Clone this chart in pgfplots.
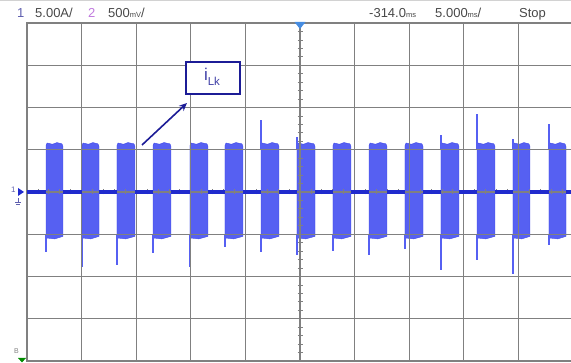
\documentclass[border=0pt]{standalone}
\usepackage{pgfplots}
\pgfplotsset{compat=1.18}
\usepackage{fontspec}
\setmainfont{Liberation Sans}
\usetikzlibrary{arrows.meta}
\definecolor{burst}{RGB}{86,96,242}
\definecolor{burstdk}{RGB}{62,72,232}
\definecolor{basec}{RGB}{32,42,205}
\definecolor{gridc}{RGB}{128,128,128}
\definecolor{annot}{RGB}{28,28,150}
\definecolor{hdr}{RGB}{72,72,72}
\definecolor{chone}{RGB}{95,95,175}
\definecolor{chtwo}{RGB}{192,122,222}
\definecolor{trig}{RGB}{70,140,225}
\newcommand{\unit}[1]{{\fontsize{7.5}{8}\selectfont #1}}
\begin{document}
\begin{tikzpicture}[x=1pt,y=1pt]
\begin{axis}[at={(27pt,2pt)}, anchor=south west, scale only axis,
  width=546pt, height=338pt, xmin=0, xmax=10, ymin=-4, ymax=4,
  xtick={0,...,10}, ytick={-4,...,4}, xticklabels={}, yticklabels={},
  tick style={draw=none}, grid=major, grid style={gridc, line width=1.3pt},
  axis line style={gridc, line width=1.3pt}, axis on top]
% bursts
\addplot[fill=burst, draw=burstdk, line width=0.4pt] coordinates {(0.348,-1.06) (0.348,1.10) (0.368,1.16) (0.468,1.13) (0.548,1.17) (0.639,1.14) (0.659,1.08) (0.659,-1.05) (0.508,-1.11) (0.368,-1.09)} -- cycle;
\addplot[fill=burst, draw=burstdk, line width=0.4pt] coordinates {(1.007,-1.06) (1.007,1.10) (1.027,1.16) (1.127,1.13) (1.207,1.17) (1.299,1.14) (1.319,1.08) (1.319,-1.05) (1.167,-1.11) (1.027,-1.09)} -- cycle;
\addplot[fill=burst, draw=burstdk, line width=0.4pt] coordinates {(1.648,-1.06) (1.648,1.10) (1.668,1.16) (1.768,1.13) (1.848,1.17) (1.958,1.14) (1.978,1.08) (1.978,-1.05) (1.808,-1.11) (1.668,-1.09)} -- cycle;
\addplot[fill=burst, draw=burstdk, line width=0.4pt] coordinates {(2.308,-1.06) (2.308,1.10) (2.328,1.16) (2.428,1.13) (2.508,1.17) (2.617,1.14) (2.637,1.08) (2.637,-1.05) (2.468,-1.11) (2.328,-1.09)} -- cycle;
\addplot[fill=burst, draw=burstdk, line width=0.4pt] coordinates {(2.985,-1.06) (2.985,1.10) (3.005,1.16) (3.105,1.13) (3.185,1.17) (3.295,1.14) (3.315,1.08) (3.315,-1.05) (3.145,-1.11) (3.005,-1.09)} -- cycle;
\addplot[fill=burst, draw=burstdk, line width=0.4pt] coordinates {(3.626,-1.06) (3.626,1.10) (3.646,1.16) (3.746,1.13) (3.826,1.17) (3.936,1.14) (3.956,1.08) (3.956,-1.05) (3.786,-1.11) (3.646,-1.09)} -- cycle;
\addplot[fill=burst, draw=burstdk, line width=0.4pt] coordinates {(4.286,-1.06) (4.286,1.10) (4.306,1.16) (4.406,1.13) (4.486,1.17) (4.595,1.14) (4.615,1.08) (4.615,-1.05) (4.446,-1.11) (4.306,-1.09)} -- cycle;
\addplot[fill=burst, draw=burstdk, line width=0.4pt] coordinates {(4.945,-1.06) (4.945,1.10) (4.965,1.16) (5.065,1.13) (5.145,1.17) (5.255,1.14) (5.275,1.08) (5.275,-1.05) (5.105,-1.11) (4.965,-1.09)} -- cycle;
\addplot[fill=burst, draw=burstdk, line width=0.4pt] coordinates {(5.604,-1.06) (5.604,1.10) (5.624,1.16) (5.724,1.13) (5.804,1.17) (5.914,1.14) (5.934,1.08) (5.934,-1.05) (5.764,-1.11) (5.624,-1.09)} -- cycle;
\addplot[fill=burst, draw=burstdk, line width=0.4pt] coordinates {(6.264,-1.06) (6.264,1.10) (6.284,1.16) (6.384,1.13) (6.464,1.17) (6.573,1.14) (6.593,1.08) (6.593,-1.05) (6.424,-1.11) (6.284,-1.09)} -- cycle;
\addplot[fill=burst, draw=burstdk, line width=0.4pt] coordinates {(6.923,-1.06) (6.923,1.10) (6.943,1.16) (7.043,1.13) (7.123,1.17) (7.233,1.14) (7.253,1.08) (7.253,-1.05) (7.083,-1.11) (6.943,-1.09)} -- cycle;
\addplot[fill=burst, draw=burstdk, line width=0.4pt] coordinates {(7.582,-1.06) (7.582,1.10) (7.602,1.16) (7.702,1.13) (7.782,1.17) (7.892,1.14) (7.912,1.08) (7.912,-1.05) (7.742,-1.11) (7.602,-1.09)} -- cycle;
\addplot[fill=burst, draw=burstdk, line width=0.4pt] coordinates {(8.242,-1.06) (8.242,1.10) (8.262,1.16) (8.362,1.13) (8.442,1.17) (8.551,1.14) (8.571,1.08) (8.571,-1.05) (8.402,-1.11) (8.262,-1.09)} -- cycle;
\addplot[fill=burst, draw=burstdk, line width=0.4pt] coordinates {(8.901,-1.06) (8.901,1.10) (8.921,1.16) (9.021,1.13) (9.101,1.17) (9.192,1.14) (9.212,1.08) (9.212,-1.05) (9.061,-1.11) (8.921,-1.09)} -- cycle;
\addplot[fill=burst, draw=burstdk, line width=0.4pt] coordinates {(9.560,-1.06) (9.560,1.10) (9.580,1.16) (9.680,1.13) (9.760,1.17) (9.852,1.14) (9.872,1.08) (9.872,-1.05) (9.720,-1.11) (9.580,-1.09)} -- cycle;
% spikes
\addplot[burst, line width=1.7pt, unbounded coords=jump] coordinates {
(0.353,-1.0) (0.353,-1.42) (0.353,nan)
(1.012,-1.0) (1.012,-1.78) (1.012,nan)
(1.653,-1.0) (1.653,-1.73) (1.653,nan)
(2.313,-1.0) (2.313,-1.45) (2.313,nan)
(2.990,-1.0) (2.990,-1.78) (2.990,nan)
(3.631,-1.0) (3.631,-1.30) (3.631,nan)
(4.291,-1.0) (4.291,-1.42) (4.291,nan)
(4.950,-1.0) (4.950,-1.50) (4.950,nan)
(5.609,-1.0) (5.609,-1.40) (5.609,nan)
(6.269,-1.0) (6.269,-1.50) (6.269,nan)
(6.928,-1.0) (6.928,-1.35) (6.928,nan)
(7.587,-1.0) (7.587,-1.85) (7.587,nan)
(8.247,-1.0) (8.247,-1.60) (8.247,nan)
(8.906,-1.0) (8.906,-1.95) (8.906,nan)
(9.565,-1.0) (9.565,-1.25) (9.565,nan)
(4.291,1.0) (4.291,1.70) (4.291,nan)
(4.950,1.0) (4.950,1.30) (4.950,nan)
(7.587,1.0) (7.587,1.35) (7.587,nan)
(8.247,1.0) (8.247,1.85) (8.247,nan)
(8.906,1.0) (8.906,1.25) (8.906,nan)
(9.565,1.0) (9.565,1.62)
};
\end{axis}
% centre cross with fine ticks, and the baseline between bursts on top of it
\begin{axis}[at={(27pt,2pt)}, anchor=south west, scale only axis,
  width=546pt, height=338pt, xmin=-5, xmax=5, ymin=-4, ymax=4,
  axis lines=center, axis line style={-, gridc, line width=1.3pt},
  xtick={-5,...,5}, ytick={-4,...,4}, minor x tick num=4, minor y tick num=4,
  xticklabels={}, yticklabels={}, tick align=center,
  major tick length=6pt, minor tick length=5pt, tick style={gridc, line width=0.8pt}]
\addplot[basec, line width=3.2pt, unbounded coords=jump] coordinates {
(-5,0) (-4.652,0) (-4.652,nan)
(-4.341,0) (-3.993,0) (-3.993,nan)
(-3.681,0) (-3.352,0) (-3.352,nan)
(-3.022,0) (-2.692,0) (-2.692,nan)
(-2.363,0) (-2.015,0) (-2.015,nan)
(-1.685,0) (-1.374,0) (-1.374,nan)
(-1.044,0) (-0.714,0) (-0.714,nan)
(-0.385,0) (-0.055,0) (-0.055,nan)
(0.275,0) (0.604,0) (0.604,nan)
(0.934,0) (1.264,0) (1.264,nan)
(1.593,0) (1.923,0) (1.923,nan)
(2.253,0) (2.582,0) (2.582,nan)
(2.912,0) (3.242,0) (3.242,nan)
(3.571,0) (3.901,0) (3.901,nan)
(4.212,0) (4.560,0) (4.560,nan)
(4.872,0) (5,0)
};
\end{axis}
% annotation
\draw[annot, fill=white, line width=2.2pt] (186,269) rectangle (240,301);
\node[text=annot!85!white, font=\fontsize{17}{17}\selectfont, inner sep=0] at (212,286) {i\raisebox{-5pt}{\fontsize{11.5}{12}\selectfont Lk}};
\draw[annot, line width=1.6pt, -{Stealth[length=8pt,width=7pt]}] (142,218) -- (187,260);
% header
\draw[gray!35, line width=0.8pt] (0,362.6) -- (571,362.6);
\node[anchor=base west, inner sep=0, text=chone, font=\fontsize{13}{15}\selectfont] at (17,345.5) {1};
\node[anchor=base west, inner sep=0, text=hdr, font=\fontsize{13}{15}\selectfont] at (35,345.5) {5.00A/};
\node[anchor=base west, inner sep=0, text=chtwo, font=\fontsize{13}{15}\selectfont] at (88,345.5) {2};
\node[anchor=base west, inner sep=0, text=hdr, font=\fontsize{13}{15}\selectfont] at (108,345.5) {500\unit{mV}/};
\node[anchor=base west, inner sep=0, text=hdr, font=\fontsize{13}{15}\selectfont] at (369,345.5) {-314.0\unit{ms}};
\node[anchor=base west, inner sep=0, text=hdr, font=\fontsize{13}{15}\selectfont] at (435,345.5) {5.000\unit{ms}/};
\node[anchor=base west, inner sep=0, text=hdr, font=\fontsize{13}{15}\selectfont] at (519,345.5) {Stop};
% trigger marker
\fill[trig] (294.5,341) -- (305.5,341) -- (300,334) -- cycle;
% channel 1 marker
\node[anchor=base west, inner sep=0, text=chone, font=\fontsize{8}{8}\selectfont] at (11,170) {1};
\fill[basec] (18,175) -- (24,171) -- (18,167) -- cycle;
\draw[chone, line width=0.6pt] (18,165) -- (18,161) (15,161) -- (21,161) (16,159) -- (20,159);
% bottom-left marker
\node[anchor=base west, inner sep=0, text=gray, font=\fontsize{7}{7}\selectfont] at (14,9) {B};
\fill[green!55!black] (18,5) -- (26,5) -- (22,0.5) -- cycle;
\pgfresetboundingbox
\path[use as bounding box] (0,0) rectangle (571,363);
\end{tikzpicture}
\end{document}
